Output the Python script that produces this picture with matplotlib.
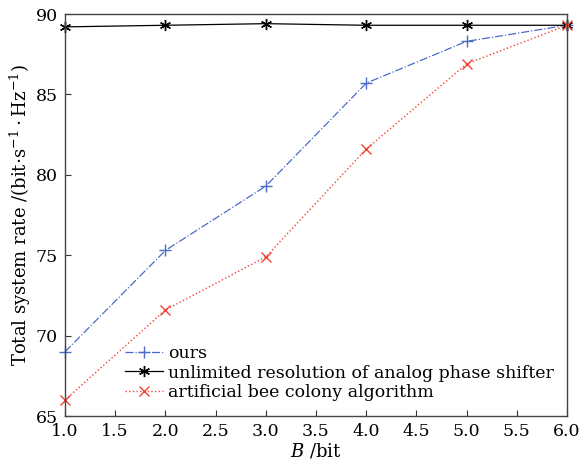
import matplotlib
matplotlib.use("Agg")
import matplotlib.pyplot as plt

plt.rcParams["font.family"] = "DejaVu Serif"
plt.rcParams["mathtext.fontset"] = "dejavuserif"

# data
bits = [1, 2, 3, 4, 5, 6]
ours = [69.0, 75.3, 79.3, 85.7, 88.3, 89.3]
unlimited = [89.2, 89.3, 89.4, 89.3, 89.3, 89.3]
abc = [66.0, 71.6, 74.9, 81.6, 86.9, 89.3]
x_ticks = [1.0, 1.5, 2.0, 2.5, 3.0, 3.5, 4.0, 4.5, 5.0, 5.5, 6.0]
y_ticks = [65, 70, 75, 80, 85, 90]

fig = plt.figure(figsize=(5.82, 4.67), dpi=100)
ax = fig.add_axes([0.1117, 0.109, 0.8625, 0.861])

ax.plot(bits, ours, color="#4a6cc8", linestyle="-.", linewidth=0.9,
        marker="+", markersize=9, markeredgewidth=1.0, label="ours",
        clip_on=False)
ax.plot(bits, unlimited, color="black", linestyle="-", linewidth=0.9,
        marker=(6, 2, 0), markersize=8, markeredgewidth=1.0,
        label="unlimited resolution of analog phase shifter", clip_on=False)
ax.plot(bits, abc, color="#f04535", linestyle=":", linewidth=1.0,
        marker="x", markersize=7, markeredgewidth=1.0,
        label="artificial bee colony algorithm", clip_on=False)

ax.set_xlim(1.0, 6.0)
ax.set_ylim(65, 90)
ax.set_xticks(x_ticks)
ax.set_xticklabels(["{:.1f}".format(v) for v in x_ticks])
ax.set_yticks(y_ticks)
ax.tick_params(direction="in", labelsize=12.5, length=4, width=0.8,
               colors="#333333", labelcolor="black", pad=5)

for s in ax.spines.values():
    s.set_color("#444444")
    s.set_linewidth(1.0)

ax.set_xlabel("$B$ /bit", fontsize=13, labelpad=1)
ax.set_ylabel("Total system rate /(bit$\\cdot$s$^{-1}\\cdot$Hz$^{-1}$)",
              fontsize=13, labelpad=2)

ax.legend(loc="lower left", bbox_to_anchor=(0.09, 0.0), frameon=False,
          fontsize=12.5, handlelength=2.2, handletextpad=0.3,
          labelspacing=0.16, borderaxespad=0.45)

fig.savefig("out.png", dpi=100)
